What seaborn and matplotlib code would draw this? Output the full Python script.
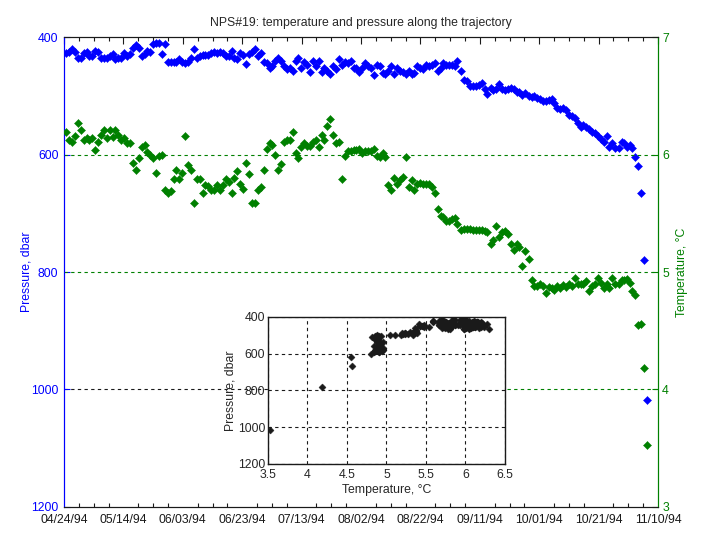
import numpy as np
import pandas as pd
import matplotlib
matplotlib.use("Agg")
import matplotlib.pyplot as plt
import matplotlib.dates as mdates
import seaborn as sns

# days after 04/24/94 for each profile
day = [
    0.7, 1.7, 2.8, 3.8, 4.8, 5.8, 6.8, 7.6, 8.5, 9.5, 10.5, 11.6, 12.6, 13.6, 14.6, 15.6, 16.6,
    17.3, 18.3, 19.3, 20.3, 21.3, 22.3, 23.3, 24.4, 25.4, 26.4, 27.4, 28.1, 29.1, 30.1, 31.1,
    32.1, 33.1, 34.1, 35.1, 36.1, 37.1, 37.8, 38.8, 39.8, 40.9, 41.9, 42.9, 43.9, 44.9, 45.9,
    46.9, 47.6, 48.6, 49.6, 50.6, 51.6, 52.6, 53.6, 54.7, 55.7, 56.7, 57.3, 58.4, 59.4, 60.4,
    61.4, 62.4, 63.4, 64.4, 65.4,
    66.4, 67.3, 68.2, 69.2, 70.1, 71.1, 72.1, 73.2, 74.2, 75.2, 76.2, 77.2, 78.0, 78.9, 79.9,
    80.9, 81.9, 82.9, 83.9, 84.9, 85.9, 87.0, 87.6, 88.6, 89.7, 90.7, 91.7, 92.7, 93.7, 94.7,
    95.7, 96.7, 97.5, 98.4, 99.4, 100.4, 101.4, 102.5, 103.5, 104.5, 105.5, 106.5, 107.5, 108.2,
    109.2, 110.2, 111.2, 112.2, 113.2, 114.2, 115.2, 116.3, 117.3, 117.9, 118.9, 120.0, 121.0,
    122.0, 123.0, 124.0, 125.0, 126.0, 127.0, 127.7, 128.7, 129.7, 130.7, 131.7, 132.4,
    133.7, 134.7, 135.7, 136.7, 137.6, 138.6, 139.6, 140.7, 141.6, 142.5, 143.6, 144.6, 145.6,
    146.6, 147.6, 148.4, 149.4, 150.4, 151.4, 152.4, 153.3, 154.3, 155.3, 156.4, 157.4, 158.4,
    159.4, 160.2, 161.2, 162.2, 163.2, 164.2, 165.1, 166.1, 167.1, 167.9, 168.9, 169.9, 170.9,
    171.9, 172.9, 173.9, 174.9, 175.9, 176.9, 177.7, 178.7, 179.7, 180.7, 181.7, 182.7, 183.6,
    184.6, 185.6, 186.7, 187.8, 188.7, 189.5, 190.4, 191.4, 192.4, 193.4, 194.4, 195.4, 196.4,
]

pressure = [
    428, 425, 420, 426, 436, 436, 428, 425, 432, 432, 424, 426, 436, 436, 435, 433, 429,
    438, 435, 435, 428, 433, 429, 419, 414, 419, 432, 429, 424, 426, 412, 410,
    410, 429, 412, 443, 442, 443, 443, 438, 443, 445, 443, 436, 420, 435, 433,
    431, 431, 431, 428, 425, 428, 426, 428, 432, 433, 423, 435, 437, 428, 431,
    446, 429, 425, 421, 432,
    427, 442, 445, 453, 450, 440, 436, 440, 449, 455, 453, 457, 440, 435, 452,
    443, 447, 460, 441, 450, 441, 460, 452, 457, 463, 450, 455, 438, 447, 443,
    445, 441, 452, 453, 459, 452, 445, 450, 452, 465, 448, 450, 462, 463,
    458, 450, 463, 452, 457, 460, 463, 457, 463, 462, 450, 453, 455,
    448, 450, 447, 445, 457, 453, 445, 447, 447, 447, 450, 440,
    458, 473, 475, 484, 483, 484, 482, 479, 488, 497, 486, 491, 488,
    480, 488, 490, 488, 487, 488, 494, 494, 499, 496, 501, 502, 500,
    503, 505, 509, 509, 507, 505, 513, 521, 522, 521, 525, 533, 534,
    538, 547, 554, 550, 554, 557, 562, 563, 568, 574, 578, 568, 587,
    581, 589, 589, 579, 581, 588, 584, 589, 604, 620, 666, 780, 1018,
]

temperature = [
    6.19, 6.12, 6.11, 6.16, 6.27, 6.21, 6.12, 6.14, 6.12, 6.14, 6.04, 6.11, 6.17, 6.21, 6.14, 6.21, 6.15,
    6.21, 6.17, 6.12, 6.14, 6.10, 6.10, 5.93, 5.87, 5.97, 6.06, 6.08, 6.02, 6.00, 5.97, 5.84,
    5.99, 6.00, 5.70, 5.67, 5.69, 5.79, 5.87, 5.79, 5.84, 6.16, 5.91, 5.87, 5.59, 5.79, 5.79,
    5.67, 5.74, 5.73, 5.70, 5.70, 5.74, 5.70, 5.74, 5.79, 5.77, 5.67, 5.80, 5.86, 5.75, 5.71,
    5.93, 5.83, 5.59, 5.59, 5.70,
    5.72, 5.87, 6.05, 6.10, 6.08, 6.00, 5.87, 5.92, 6.11, 6.12, 6.12, 6.19, 6.01, 5.97, 6.06,
    6.10, 6.07, 6.07, 6.11, 6.12, 6.06, 6.17, 6.12, 6.24, 6.30, 6.17, 6.10, 6.11, 5.79, 5.99,
    6.03, 6.03, 6.04, 6.04, 6.05, 6.01, 6.03, 6.03, 6.03, 6.05, 5.99, 5.98, 6.01, 5.98,
    5.74, 5.70, 5.80, 5.75, 5.78, 5.81, 5.98, 5.72, 5.78, 5.70, 5.75, 5.76, 5.75,
    5.75, 5.75, 5.72, 5.67, 5.54, 5.48, 5.47, 5.43, 5.43, 5.45, 5.46, 5.41,
    5.36, 5.37, 5.37, 5.37, 5.36, 5.36, 5.36, 5.36, 5.35, 5.34, 5.24, 5.27, 5.39,
    5.30, 5.34, 5.35, 5.32, 5.24, 5.19, 5.24, 5.21, 5.05, 5.18, 5.11, 4.93, 4.88,
    4.88, 4.90, 4.88, 4.82, 4.87, 4.86, 4.85, 4.88, 4.86, 4.89, 4.87, 4.90, 4.88,
    4.95, 4.90, 4.90, 4.90, 4.92, 4.84, 4.88, 4.90, 4.95, 4.91, 4.86, 4.90, 4.86,
    4.95, 4.90, 4.90, 4.93, 4.93, 4.94, 4.91, 4.84, 4.80, 4.55, 4.56, 4.18, 3.53,
]

start = pd.Timestamp("1994-04-24")
end = pd.Timestamp("1994-11-10")

title = "NPS#19: temperature and pressure along the trajectory"
p_ticks = [400, 600, 800, 1000, 1200]
t_ticks = [3, 4, 5, 6, 7]
inset_t_ticks = [3.5, 4, 4.5, 5, 5.5, 6, 6.5]
inset_t_labels = ["3.5", "4", "4.5", "5", "5.5", "6", "6.5"]

BLUE = (0, 0, 1)
GREEN = (0, 0.5, 0)
FS = 8.8

sns.set_theme(style="white")
plt.rcParams["font.family"] = ["Liberation Sans", "DejaVu Sans"]
plt.rcParams["font.size"] = FS
plt.rcParams["xtick.direction"] = "in"
plt.rcParams["ytick.direction"] = "in"

df = pd.DataFrame({
    "date": start + pd.to_timedelta(day, unit="D"),
    "pressure": pressure,
    "temperature": temperature,
})

fig = plt.figure(figsize=(7.01, 5.51), dpi=100)
ax = fig.add_axes([0.0913, 0.0799, 0.8474, 0.8529])
ax2 = ax.twinx()

dash = (0, (3, 3))

# left axis: pressure
ax.axhline(1000, xmax=0.4, color="k", lw=0.8, ls=dash, zorder=0)
sns.scatterplot(data=df, x="date", y="pressure", ax=ax, marker="D", s=17,
                color=BLUE, edgecolor=BLUE, linewidth=0.3, zorder=3)
ax.set_ylim(1200, 400)
ax.set_yticks(p_ticks)
ax.set_ylabel("Pressure, dbar", color=BLUE, labelpad=-1, fontsize=FS)
ax.set_xlabel("")
ax.tick_params(axis="y", colors=BLUE, length=4, width=0.8, pad=4, labelsize=FS)

ax.set_xlim(start, end)
major = mdates.date2num(pd.date_range(start, end, freq="20D"))
minor = mdates.date2num(pd.date_range(start, end, freq="5D"))
ax.set_xticks(major)
ax.set_xticks(minor, minor=True)
ax.xaxis.set_major_formatter(mdates.DateFormatter("%m/%d/%y"))
ax.tick_params(axis="x", which="major", top=True, length=5, width=0.8, colors="k", labelsize=FS, pad=5)
ax.tick_params(axis="x", which="minor", top=True, bottom=True, length=3, width=0.8, color="k")

# right axis: temperature
ax2.axhline(6, color=GREEN, lw=0.8, ls=dash, zorder=0)
ax2.axhline(5, color=GREEN, lw=0.8, ls=dash, zorder=0)
ax2.axhline(4, xmin=0.745, color=GREEN, lw=0.8, ls=dash, zorder=0)
sns.scatterplot(data=df, x="date", y="temperature", ax=ax2, marker="D", s=17,
                color=GREEN, edgecolor=GREEN, linewidth=0.3, zorder=3)
ax2.set_ylim(3, 7)
ax2.set_yticks(t_ticks)
ax2.set_ylabel("Temperature, °C", color=GREEN, rotation=90, labelpad=5, fontsize=FS)
ax2.set_xlabel("")
ax2.tick_params(axis="y", colors=GREEN, length=4, width=0.8, pad=3, labelsize=FS)
ax2.set_xlim(start, end)

for a in (ax, ax2):
    for s in a.spines.values():
        s.set_color("k")
        s.set_linewidth(0.8)
    a.spines["left"].set_color(BLUE)
    a.spines["right"].set_color(GREEN)

ax.set_title(title, fontsize=FS, pad=8)

# inset: pressure vs temperature
ins = fig.add_axes([0.3823, 0.158, 0.3381, 0.2668])
ins.set_facecolor("white")
sns.scatterplot(data=df, x="temperature", y="pressure", ax=ins, marker="D", s=13,
                color="k", edgecolor="k", linewidth=0.3, zorder=3)
ins.set_xlim(3.5, 6.5)
ins.set_ylim(1200, 400)
ins.set_xticks(inset_t_ticks)
ins.set_xticklabels(inset_t_labels)
ins.set_yticks(p_ticks)
ins.grid(True, color="k", lw=0.8, ls=dash)
ins.set_xlabel("Temperature, °C", labelpad=2, fontsize=FS)
ins.set_ylabel("Pressure, dbar", labelpad=1, fontsize=FS)
ins.tick_params(length=0, labelsize=FS)
ins.tick_params(axis="x", pad=4)
ins.tick_params(axis="y", pad=2)
for s in ins.spines.values():
    s.set_color("k")
    s.set_linewidth(1.0)

fig.savefig("out.png", dpi=100)
